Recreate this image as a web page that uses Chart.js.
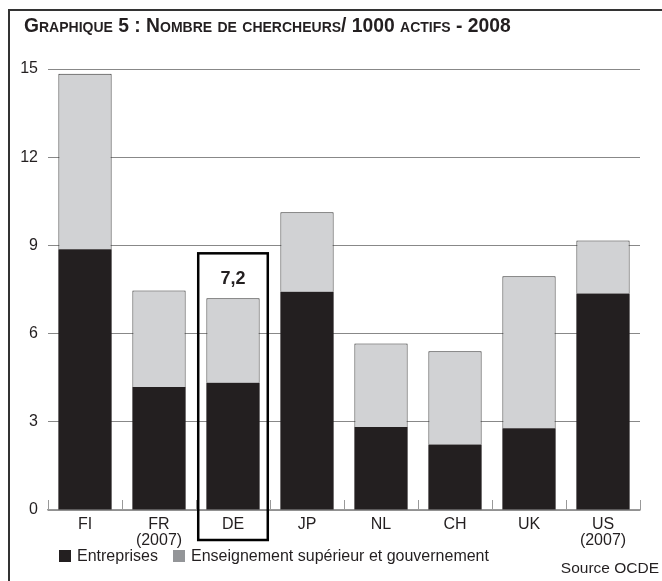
<!DOCTYPE html>
<html><head><meta charset="utf-8">
<script src="https://cdn.jsdelivr.net/npm/chart.js@4"></script>
<style>
html,body{margin:0;padding:0;background:#fff;}
#wrap{position:relative;width:662px;height:581px;overflow:hidden;font-family:"Liberation Sans Narrow","Liberation Sans",sans-serif;color:#231f20;}
#frame{position:absolute;left:8px;top:9px;width:700px;height:700px;border-left:2px solid #333;border-top:2px solid #333;}
#title{position:absolute;left:24px;top:15px;font-weight:bold;font-size:19.3px;font-variant:small-caps;white-space:nowrap;}
#c{position:absolute;left:0;top:0;}
.leg{position:absolute;top:547px;font-size:16px;white-space:nowrap;}
.sw{display:inline-block;width:12px;height:12px;vertical-align:-1px;margin-right:6px;}
#src{position:absolute;right:3px;top:559px;font-size:15.5px;white-space:nowrap;}
</style></head>
<body><div id="wrap">
<div id="frame"></div>
<canvas id="c" width="662" height="581"></canvas>
<div id="title">Graphique 5 : Nombre de chercheurs/ 1000 actifs - 2008</div>
<div class="leg" id="leg1" style="left:59px"><span class="sw" style="background:#231f20"></span>Entreprises</div>
<div class="leg" id="leg2" style="left:173px"><span class="sw" style="background:#939598"></span>Enseignement supérieur et gouvernement</div>
<div id="src">Source OCDE</div>
</div>
<script>
const categories = [["FI"], ["FR", "(2007)"], ["DE"], ["JP"], ["NL"], ["CH"], ["UK"], ["US", "(2007)"]];
const entreprises = [8.87, 4.18, 4.33, 7.42, 2.82, 2.23, 2.78, 7.36];
const enseignement = [5.97, 3.29, 2.87, 2.71, 2.84, 3.17, 5.17, 1.81];
const yTicks = [0, 3, 6, 9, 12, 15];
const highlightIndex = 2;
const highlightLabel = "7,2";

const FONT = '"Liberation Sans Narrow","Liberation Sans",sans-serif';

const boundaryTicks = {
  id: 'boundaryTicks',
  afterDatasetsDraw(chart) {
    const x = chart.scales.x, y = chart.scales.y, ctx = chart.ctx;
    const step = x.getPixelForValue(1) - x.getPixelForValue(0);
    const base = y.getPixelForValue(0);
    ctx.save();
    ctx.strokeStyle = '#999'; ctx.lineWidth = 1;
    for (let i = 0; i <= categories.length; i++) {
      const px = Math.round(x.getPixelForValue(i) - step / 2) + 0.5;
      ctx.beginPath(); ctx.moveTo(px, base); ctx.lineTo(px, base - 10); ctx.stroke();
    }
    ctx.restore();
  },
  afterDraw(chart) {
    const x = chart.scales.x, y = chart.scales.y, ctx = chart.ctx;
    const step = x.getPixelForValue(1) - x.getPixelForValue(0);
    const cx = x.getPixelForValue(highlightIndex);
    const total = entreprises[highlightIndex] + enseignement[highlightIndex];
    const topBar = y.getPixelForValue(total);
    const half = step * 0.47;
    ctx.save();
    ctx.strokeStyle = '#000'; ctx.lineWidth = 2.5;
    ctx.strokeRect(cx - half, topBar - 45, half * 2, chart.chartArea.bottom + 30 - (topBar - 45));
    ctx.fillStyle = '#231f20';
    ctx.font = 'bold 18px ' + FONT;
    ctx.textAlign = 'center'; ctx.textBaseline = 'middle';
    ctx.fillText(highlightLabel, cx, topBar - 19);
    ctx.restore();
  }
};

new Chart(document.getElementById('c'), {
  type: 'bar',
  data: {
    labels: categories,
    datasets: [
      { label: 'Entreprises', data: entreprises, backgroundColor: '#231f20', borderColor: '#231f20', borderWidth: 0 },
      { label: 'Enseignement supérieur et gouvernement', data: enseignement, backgroundColor: '#d1d2d4', borderColor: '#333', borderWidth: {top: 1, left: 1, right: 1, bottom: 0}, borderSkipped: false }
    ]
  },
  options: {
    responsive: false,
    animation: false,
    devicePixelRatio: 1,
    layout: { padding: { top: 69, left: 0, right: 22, bottom: 31 } },
    plugins: { legend: { display: false }, tooltip: { enabled: false }, title: { display: false } },
    datasets: { bar: { categoryPercentage: 1, barPercentage: 0.72 } },
    scales: {
      x: {
        stacked: true,
        afterFit(s) { s.height = 40; },
        grid: { display: false, drawTicks: false },
        border: { display: true, color: '#999', width: 1.5 },
        ticks: { color: '#231f20', padding: 7, font: { family: FONT, size: 16, lineHeight: 1.0 }, maxRotation: 0, autoSkip: false }
      },
      y: {
        stacked: true,
        min: 0, max: 15,
        afterFit(s) { s.width = 48; },
        afterBuildTicks(s) { s.ticks = yTicks.map(v => ({ value: v })); },
        grid: { color: '#888', lineWidth: 1, drawTicks: false },
        border: { display: false },
        ticks: { color: '#231f20', padding: 10, font: { family: FONT, size: 16 } }
      }
    }
  },
  plugins: [boundaryTicks]
});
</script>
</body></html>
